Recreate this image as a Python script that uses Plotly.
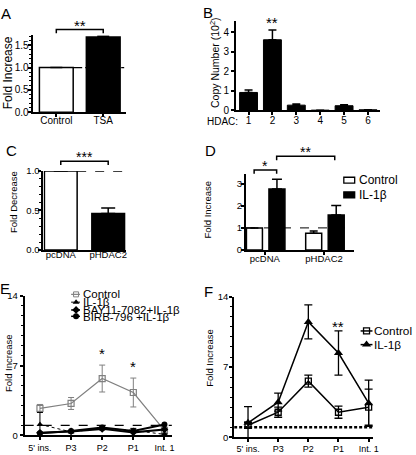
import plotly.graph_objects as go

W, H = 416, 455
FONT = "Liberation Sans, Arial, Helvetica, sans-serif"


def px(x):
    return x / W


def py(y):
    return 1 - y / H


# ---------------- data ----------------
a_cats = ["Control", "TSA"]
a_vals = [1.0, 1.68]
a_err = [0.0, 0.02]

b_hdac = [1, 2, 3, 4, 5, 6]
b_vals = [0.92, 3.62, 0.27, 0.01, 0.24, 0.03]
b_err = [0.12, 0.50, 0.06, 0.0, 0.05, 0.0]

c_cats = ["pcDNA", "pHDAC2"]
c_vals = [1.0, 0.46]
c_err = [0.0, 0.07]

d_groups = ["pcDNA", "pHDAC2"]
d_ctrl = [1.0, 0.76]
d_ctrl_err = [0.0, 0.1]
d_il = [2.76, 1.58]
d_il_err = [0.45, 0.43]

sites = ["5' ins.", "P3", "P2", "P1", "Int. 1"]
e_ctrl = [2.7, 3.2, 5.7, 4.3, 0.5]
e_ctrl_err = [0.4, 0.6, 1.35, 1.45, 0.2]
e_il = [1.1, 0.35, 0.7, 0.5, 0.1]
e_il_err = [1.2, 0.1, 0.15, 0.2, 0.05]
e_bay = [0.25, 0.4, 0.65, 0.3, 0.6]
e_birb = [0.2, 0.45, 0.8, 0.45, 1.1]

f_ctrl = [1.2, 2.5, 5.6, 2.5, 3.0]
f_ctrl_err = [0.3, 0.5, 0.6, 0.6, 1.8]
f_il = [1.45, 3.5, 11.5, 8.4, 3.4]
f_il_err = [1.6, 0.9, 1.7, 2.2, 2.3]

fig = go.Figure()


def up_err(arr, width=5):
    return dict(type="data", array=arr, arrayminus=[0] * len(arr), symmetric=False,
                color="black", thickness=1.5, width=width)


# ---- A ----
fig.add_trace(go.Bar(x=list(range(len(a_cats))), y=a_vals, width=0.72,
                     marker=dict(color=["white", "black"], line=dict(color="black", width=1.5)),
                     error_y=up_err(a_err, 6), xaxis="x", yaxis="y", showlegend=False))
# ---- B ----
fig.add_trace(go.Bar(x=b_hdac, y=b_vals, width=0.75,
                     marker=dict(color="black", line=dict(color="black", width=1)),
                     error_y=up_err(b_err, 4), xaxis="x2", yaxis="y2", showlegend=False))
# ---- C ----
fig.add_trace(go.Bar(x=list(range(len(c_cats))), y=c_vals, width=0.69,
                     marker=dict(color=["white", "black"], line=dict(color="black", width=1.5)),
                     error_y=up_err(c_err, 7), xaxis="x3", yaxis="y3", showlegend=False))
# ---- D ----
fig.add_trace(go.Bar(x=list(range(len(d_groups))), y=d_ctrl, width=0.27, offset=-0.31,
                     marker=dict(color="white", line=dict(color="black", width=1.5)),
                     error_y=up_err(d_ctrl_err, 4), xaxis="x4", yaxis="y4", showlegend=False))
fig.add_trace(go.Bar(x=list(range(len(d_groups))), y=d_il, width=0.27, offset=0.07,
                     marker=dict(color="black", line=dict(color="black", width=1.5)),
                     error_y=up_err(d_il_err, 5), xaxis="x4", yaxis="y4", showlegend=False))

# ---- E ----
ex = list(range(len(sites)))
fig.add_trace(go.Scatter(x=ex, y=e_ctrl, mode="lines+markers",
                         line=dict(color="#808080", width=1.2),
                         marker=dict(symbol="square-open", size=6, color="#808080", line=dict(width=1.2)),
                         error_y=dict(type="data", array=e_ctrl_err, color="#808080", thickness=1, width=3),
                         xaxis="x5", yaxis="y5", showlegend=False, cliponaxis=False))
fig.add_trace(go.Scatter(x=ex, y=e_il, mode="lines+markers",
                         line=dict(color="black", width=1, dash="dot"),
                         marker=dict(symbol="triangle-up", size=6, color="black"),
                         error_y=dict(type="data", array=e_il_err, color="black", thickness=1, width=3),
                         xaxis="x5", yaxis="y5", showlegend=False, cliponaxis=False))
fig.add_trace(go.Scatter(x=ex, y=e_bay, mode="lines+markers",
                         line=dict(color="black", width=2),
                         marker=dict(symbol="diamond", size=6, color="black"),
                         xaxis="x5", yaxis="y5", showlegend=False, cliponaxis=False))
fig.add_trace(go.Scatter(x=ex, y=e_birb, mode="lines+markers",
                         line=dict(color="black", width=2),
                         marker=dict(symbol="circle", size=6, color="black"),
                         xaxis="x5", yaxis="y5", showlegend=False, cliponaxis=False))

# ---- F ----
fig.add_trace(go.Scatter(x=ex, y=f_ctrl, mode="lines+markers",
                         line=dict(color="black", width=1.5),
                         marker=dict(symbol="square-open", size=6, color="black", line=dict(width=1.3)),
                         error_y=dict(type="data", array=f_ctrl_err, color="black", thickness=1.3, width=4),
                         xaxis="x6", yaxis="y6", showlegend=False, cliponaxis=False))
fig.add_trace(go.Scatter(x=ex, y=f_il, mode="lines+markers",
                         line=dict(color="black", width=1.5),
                         marker=dict(symbol="triangle-up", size=8, color="black"),
                         error_y=dict(type="data", array=f_il_err, color="black", thickness=1.3, width=4),
                         xaxis="x6", yaxis="y6", showlegend=False, cliponaxis=False))

# ---- legend keys (pixel overlay axis) ----
ov = dict(xaxis="x7", yaxis="y7", showlegend=False, hoverinfo="skip", cliponaxis=False)
e_keys = [
    (295.5, dict(color="#808080", width=1.2), dict(symbol="square-open", size=5, color="#808080")),
    (303.5, dict(color="black", width=1, dash="dot"), dict(symbol="triangle-up", size=6, color="black")),
    (311.5, dict(color="black", width=1.5), dict(symbol="diamond", size=6, color="black")),
    (318, dict(color="black", width=1.5), dict(symbol="circle", size=6, color="black")),
]
for yk, ln, mk in e_keys:
    fig.add_trace(go.Scatter(x=[72, 77, 81], y=[yk, yk, yk], mode="lines", line=ln, **ov))
    fig.add_trace(go.Scatter(x=[77], y=[yk], mode="markers", marker=mk, **ov))
f_keys = [
    (333, dict(symbol="square-open", size=6, color="black", line=dict(width=1.3))),
    (347, dict(symbol="triangle-up", size=8, color="black")),
]
for yk, mk in f_keys:
    fig.add_trace(go.Scatter(x=[365, 377], y=[yk, yk], mode="lines", line=dict(color="black", width=1.5), **ov))
    fig.add_trace(go.Scatter(x=[371], y=[yk], mode="markers", marker=mk, **ov))


# ---------------- axes ----------------
def xaxis(dom, rng, tickvals, ticktext, fs, anchor, ticks="outside", standoff=0):
    return dict(domain=dom, range=rng, tickmode="array", tickvals=tickvals, ticktext=ticktext,
                showline=True, linecolor="black", linewidth=2, ticks=ticks, ticklen=3,
                tickwidth=1.5, tickcolor="black", showgrid=False, zeroline=False,
                ticklabeloverflow="allow", ticklabelstandoff=standoff,
                tickfont=dict(size=fs, family=FONT, color="black"), anchor=anchor, fixedrange=True)


def yaxis(dom, rng, dtick, fmt, fs, anchor, minor=None, standoff=0):
    d = dict(domain=dom, range=rng, tickmode="linear", tick0=0, dtick=dtick, tickformat=fmt,
             showline=True, linecolor="black", linewidth=2, ticks="outside", ticklen=3,
             tickwidth=1.5, tickcolor="black", showgrid=False, zeroline=False,
             ticklabeloverflow="allow", ticklabelstandoff=standoff,
             tickfont=dict(size=fs, family=FONT, color="black"), anchor=anchor, fixedrange=True)
    if minor is not None:
        d["minor"] = dict(dtick=minor, tick0=0, ticklen=2, tickwidth=1, ticks="outside", tickcolor="black",
                          showgrid=False)
    return d


layout = dict(
    width=W, height=H, margin=dict(l=0, r=0, t=0, b=0),
    paper_bgcolor="white", plot_bgcolor="rgba(0,0,0,0)", barmode="overlay",
    font=dict(family=FONT, color="black"),
    xaxis=xaxis([px(33), px(128)], [-0.505, 1.495], [0, 1], a_cats, 10, "y", standoff=-5),
    yaxis=yaxis([py(109), py(30)], [0, 1.72], 0.5, ".1f", 10, "x", 0.1, standoff=-3),
    xaxis2=xaxis([px(239), px(385)], [0.48, 6.52], b_hdac, [str(v) for v in b_hdac], 10, "y2", standoff=-3),
    yaxis2=yaxis([py(107), py(15)], [0, 4.6], 1, "d", 10, "x2"),
    xaxis3=xaxis([px(44), px(128)], [-0.365, 1.385], [0, 1], c_cats, 9.5, "y3", ticks="", standoff=-5),
    yaxis3=yaxis([py(250), py(169)], [0, 1.0], 0.5, ".1f", 9.5, "x3", 0.1, standoff=-3),
    xaxis4=xaxis([px(249), px(358)], [-0.317, 1.5], [0, 1], d_groups, 9.5, "y4", standoff=-4),
    yaxis4=yaxis([py(250), py(172)], [0, 3.45], 1, "d", 9.5, "x4", standoff=-3),
    xaxis5=xaxis([px(25), px(174)], [-0.49, 4.24], ex, sites, 9, "y5"),
    yaxis5=yaxis([py(440), py(297)], [0, 14], 7, "d", 9.5, "x5", 1),
    xaxis6=xaxis([px(237), px(378)], [-0.46, 4.16], ex, sites, 9, "y6", standoff=-1),
    yaxis6=yaxis([py(442), py(298)], [0, 14], 7, "d", 9.5, "x6", 1, standoff=-1),
    xaxis7=dict(domain=[0, 1], range=[0, W], visible=False, anchor="y7", fixedrange=True),
    yaxis7=dict(domain=[0, 1], range=[H, 0], visible=False, anchor="x7", fixedrange=True),
)
fig.update_layout(**layout)

shapes = []
# reference lines
shapes.append(dict(type="line", xref="x", yref="y", x0=0.36, x1=1.495, y0=1, y1=1,
                   line=dict(color="black", width=1.3, dash="dashdot")))
shapes.append(dict(type="line", xref="x3", yref="y3", x0=0.345, x1=1.385, y0=1, y1=1,
                   line=dict(color="black", width=1.5, dash="dash")))
shapes.append(dict(type="line", xref="x4", yref="y4", x0=-0.317, x1=1.5, y0=1, y1=1,
                   line=dict(color="black", width=1, dash="dash")))
shapes.append(dict(type="line", xref="x5", yref="y5", x0=-0.49, x1=4.24, y0=1, y1=1,
                   line=dict(color="black", width=1.3, dash="dash")))
shapes.append(dict(type="line", xref="x6", yref="y6", x0=-0.46, x1=4.16, y0=1, y1=1,
                   line=dict(color="black", width=2.5, dash="3px,2px")))


def bracket(xr, x0, x1, ytop, ydrop):
    return dict(type="path", xref=xr, yref="paper",
                path=f"M {x0},{py(ydrop)} L {x0},{py(ytop)} L {x1},{py(ytop)} L {x1},{py(ydrop)}",
                line=dict(color="black", width=1.5))


shapes.append(bracket("x", 0, 1, 24, 28))
shapes.append(bracket("x3", 0, 1, 159, 163))
shapes.append(bracket("x4", -0.18, 0.2, 168, 172))
shapes.append(bracket("x4", 0.2, 1.18, 154, 158))
# D legend boxes
shapes.append(dict(type="rect", xref="paper", yref="paper", x0=px(348), x1=px(359), y0=py(181.5), y1=py(175.5),
                   fillcolor="white", line=dict(color="black", width=1.3)))
shapes.append(dict(type="rect", xref="paper", yref="paper", x0=px(348), x1=px(359), y0=py(196.5), y1=py(190.5),
                   fillcolor="black", line=dict(color="black", width=1.3)))
fig.update_layout(shapes=shapes)

ann = []


def txt(x, y, s, size, xanchor="center", angle=0, xref="paper"):
    ann.append(dict(x=(px(x) if xref == "paper" else x), y=py(y), xref=xref, yref="paper", text=s,
                    showarrow=False, xanchor=xanchor, yanchor="middle", textangle=angle,
                    font=dict(size=size, family=FONT, color="black")))


# panel letters
for L, x, y in [("A", 6, 8), ("B", 211, 7), ("C", 12, 148), ("D", 213, 148), ("E", 5, 290), ("F", 211, 293)]:
    txt(x, y, L, 15)
# axis titles
txt(8, 68, "Fold Increase", 12, angle=-90)
txt(217, 58, "Copy Number (10<sup>2</sup>)", 10.5, angle=-90)
txt(13, 201, "Fold Decrease", 9.5, angle=-90)
txt(211, 208, "Fold Increase", 9.5, angle=-90)
txt(8, 366, "Fold Increase", 9.5, angle=-90)
txt(212, 360, "Fold Increase", 9.5, angle=-90)
# stars
txt(0.5, 20, "**", 15, xref="x")
txt(2, 17, "**", 15, xref="x2")
txt(0.5, 155, "***", 14, xref="x3")
txt(0.01, 164, "*", 14, xref="x4")
txt(0.69, 150, "**", 14, xref="x4")
txt(2, 356, "*", 15, xref="x5")
txt(3, 369, "*", 15, xref="x5")
txt(3, 328, "**", 15, xref="x6")
# misc text
txt(207, 118, "HDAC:", 10, xanchor="left")
txt(361, 178.5, "Control", 12, xanchor="left")
txt(361, 193.5, "IL-1β", 12, xanchor="left")
txt(82, 295.5, "Control", 11.5, xanchor="left")
txt(82, 303.5, "IL-1β", 11.5, xanchor="left")
txt(82, 311.5, "BAY11-7082+IL-1β", 11.5, xanchor="left")
txt(82, 318.5, "BIRB-796 +IL-1β", 11.5, xanchor="left")
txt(377, 333, "Control", 11.8, xanchor="left")
txt(377, 347, "IL-1β", 11.8, xanchor="left")
fig.update_layout(annotations=ann)

fig.write_html("out.html", config={"displayModeBar": False},
               post_script="document.body.style.margin='0';document.body.style.overflow='hidden';")
